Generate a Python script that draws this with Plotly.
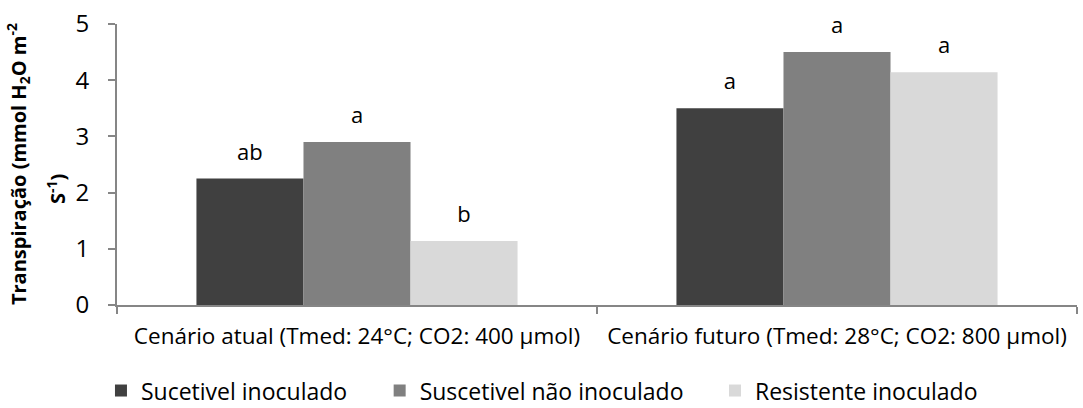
import plotly.graph_objects as go

# Scenario categories and treatment series
cenarios = [
    "Cenário atual (Tmed: 24°C; CO2: 400 µmol)",
    "Cenário futuro (Tmed: 28°C; CO2: 800 µmol)",
]
series_nomes = ["Sucetivel inoculado", "Suscetivel não inoculado", "Resistente inoculado"]
series_cores = ["#404040", "#808080", "#d9d9d9"]

sucetivel_inoculado = [2.25, 3.5]
suscetivel_nao_inoculado = [2.9, 4.5]
resistente_inoculado = [1.14, 4.14]

# Tukey letters above each bar
letras_sucetivel_inoculado = ["ab", "a"]
letras_suscetivel_nao_inoculado = ["a", "a"]
letras_resistente_inoculado = ["b", "a"]

valores = [sucetivel_inoculado, suscetivel_nao_inoculado, resistente_inoculado]
letras = [letras_sucetivel_inoculado, letras_suscetivel_nao_inoculado, letras_resistente_inoculado]

# One legend box per series so each entry can sit where it belongs
legend_ids = ["legend", "legend2", "legend3"]
legend_x = [-0.0167, 0.2736, 0.6229]

FONT = "Open Sans"
fig = go.Figure()

for i, (nome, cor, vals) in enumerate(zip(series_nomes, series_cores, valores)):
    fig.add_trace(go.Bar(
        x=cenarios, y=vals, name=nome,
        marker=dict(color=cor, line=dict(width=0)),
        offsetgroup=str(i), hoverinfo="skip",
        legend=legend_ids[i],
    ))

# Significance letters, grouped the same way as the bars
for i, (vals, lets) in enumerate(zip(valores, letras)):
    fig.add_trace(go.Scatter(
        x=cenarios, y=vals, text=lets, mode="markers+text",
        textposition="top center",
        marker=dict(size=20, color="rgba(0,0,0,0)"),
        textfont=dict(family=FONT, size=22, color="#000000"),
        offsetgroup=str(i), showlegend=False, hoverinfo="skip",
        cliponaxis=False,
    ))

legend_style = dict(
    orientation="h", xanchor="left", y=-0.228, yanchor="top",
    font=dict(family=FONT, size=23, color="#000000"),
    bgcolor="rgba(0,0,0,0)",
)

fig.update_layout(
    width=1083, height=408,
    margin=dict(l=117, r=6, t=24, b=103, autoexpand=False),
    paper_bgcolor="white", plot_bgcolor="white",
    barmode="group", bargap=0.331, bargroupgap=0,
    scattermode="group", scattergap=0.331,
    font=dict(family=FONT, size=22, color="#000000"),
    showlegend=True,
    legend=dict(x=legend_x[0], **legend_style),
    legend2=dict(x=legend_x[1], **legend_style),
    legend3=dict(x=legend_x[2], **legend_style),
)

fig.update_xaxes(
    type="category", tickangle=0,
    showline=True, linecolor="#868686", linewidth=2,
    ticks="outside", tickson="boundaries", ticklen=7, tickcolor="#868686", tickwidth=2,
    tickfont=dict(family=FONT, size=22.5),
    ticklabelstandoff=10,
    showgrid=False, zeroline=False,
)
fig.update_yaxes(
    range=[0, 5], dtick=1,
    showline=True, linecolor="#868686", linewidth=2,
    ticks="outside", ticklen=7, tickcolor="#868686", tickwidth=2,
    tickfont=dict(family=FONT, size=24),
    ticklabelstandoff=14,
    showgrid=False, zeroline=False,
)

# Two-line vertical axis title
fig.add_annotation(
    text="<b>Transpiração (mmol H<sub>2</sub>O m<sup>-2</sup></b>",
    xref="paper", yref="paper", x=-0.103, y=0.502,
    xanchor="center", yanchor="middle", textangle=-90, showarrow=False,
    font=dict(family=FONT, size=20, color="#000000"),
)
fig.add_annotation(
    text="<b>S<sup>-1</sup>)</b>",
    xref="paper", yref="paper", x=-0.0625, y=0.413,
    xanchor="center", yanchor="middle", textangle=-90, showarrow=False,
    font=dict(family=FONT, size=20, color="#000000"),
)

fig.write_html("out.html")
